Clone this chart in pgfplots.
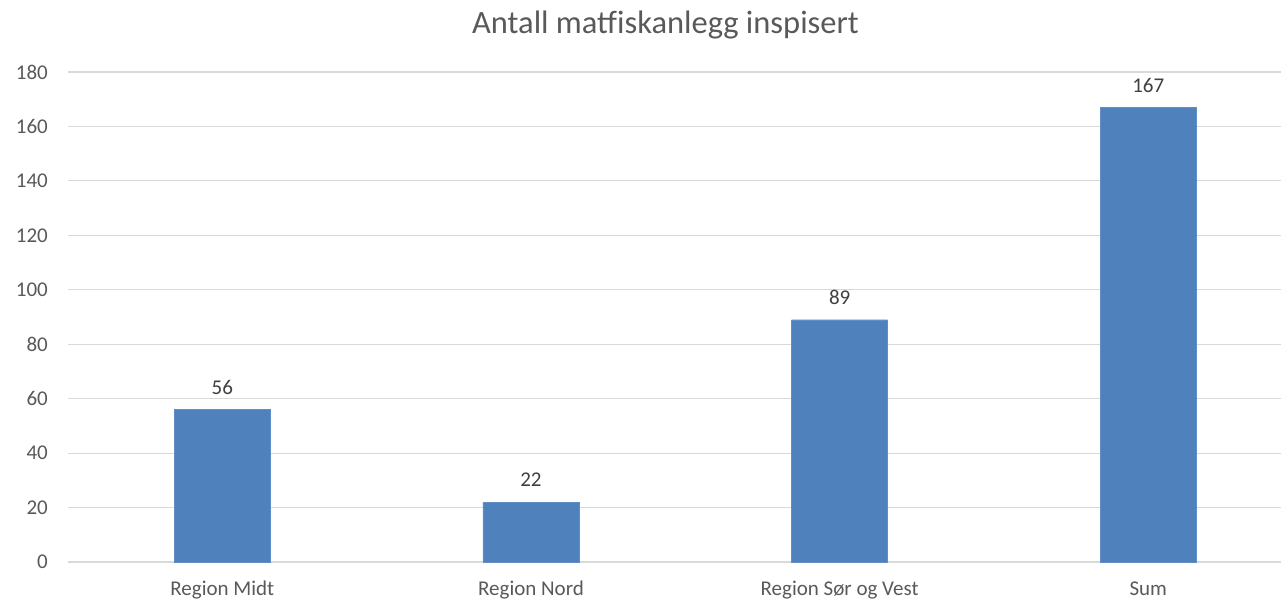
\documentclass[border=0pt]{standalone}
\usepackage{fontspec}
\setmainfont{Carlito}
\usepackage{pgfplots}
\pgfplotsset{compat=1.18}
\definecolor{barblue}{HTML}{4F81BD}
\definecolor{gridgray}{HTML}{D9D9D9}
\definecolor{txtgray}{HTML}{595959}
\begin{document}
\begin{tikzpicture}[x=1pt,y=1pt]
\path[use as bounding box] (0,0) rectangle (1281,603);
\begin{axis}[
  at={(68pt,41pt)}, anchor=south west,
  width=1213pt, height=490pt, scale only axis,
  xmin=-0.5, xmax=3.43, ymin=0, ymax=180,
  ytick={0,20,...,180},
  xtick={0,1,2,3},
  xticklabels={Region Midt, Region Nord, Region Sør og Vest, Sum},
  axis line style={draw=none},
  ymajorgrids, grid style={draw=gridgray, line width=1.2pt},
  major tick length=0pt,
  /pgf/number format/assume math mode=true,
  ticklabel style={font=\fontsize{21}{25}\selectfont, text=txtgray, inner sep=0pt},
  yticklabel style={xshift=-20pt},
  xticklabel style={yshift=-20pt, text height=13.5pt},
  ybar, bar width=96pt,
  nodes near coords,
  every node near coord/.append style={font=\fontsize{21}{25}\selectfont, text=black!75, inner sep=0pt, yshift=15pt},
  clip=false,
]
\addplot[fill=barblue, draw=barblue!90!white] coordinates {(0,56) (1,22) (2,89) (3,167)};
\end{axis}
\node[anchor=base, font=\fontsize{32.5}{38}\selectfont, text=txtgray] at (665.5,569) {Antall matfiskanlegg inspisert};
\end{tikzpicture}
\end{document}
